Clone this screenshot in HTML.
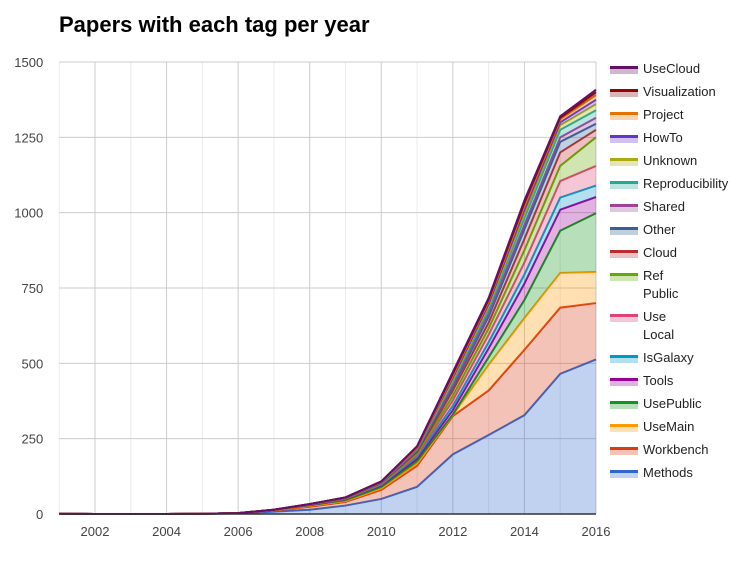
<!DOCTYPE html>
<html><head><meta charset="utf-8"><style>
body{margin:0;background:#fff;font-family:"Liberation Sans",Arial,sans-serif}
svg text{font-family:"Liberation Sans",Arial,sans-serif}
</style></head><body>
<svg id="c" width="753" height="559">
<text x="59" y="32" font-size="22" font-weight="bold" fill="#000">Papers with each tag per year</text>
<g id="grid"></g><g id="areas"></g><g id="axes"></g><g id="legend"></g>
</svg>
<script>
const years=[2001,2002,2003,2004,2005,2006,2007,2008,2009,2010,2011,2012,2013,2014,2015,2016];
const seriesNames=["Methods","Workbench","UseMain","UsePublic","Tools","IsGalaxy","Use Local","Ref Public","Cloud","Other","Shared","Reproducibility","Unknown","HowTo","Project","Visualization","UseCloud"];
const sMethods=[0,0,0,0,0,2,8,14,28,50,90,198,262,328,465,513];
const sWorkbench=[0,0,0,0,1,1,4,10,12,30,70,127,148,217,220,187];
const sUseMain=[0,0,0,0,0,0,1,3,3,5,8,3,85,105,115,103];
const sUsePublic=[1,0,0,0,0,0,1,2,3,5,8,2,25,60,140,195];
const sTools=[0,0,0,0,0,0,0,1,3,5,8,15,30,55,70,54];
const sIsGalaxy=[0,0,0,0,0,0,0,1,1,2,6,14,20,30,40,38];
const sUseLocal=[0,0,0,0,0,0,0,1,1,2,6,18,25,40,55,65];
const sRefPublic=[0,0,0,0,0,0,0,1,1,2,5,15,20,40,50,95];
const sCloud=[0,0,0,0,0,0,0,0,1,2,5,18,20,38,45,25];
const sOther=[0,0,0,0,0,0,0,0,1,1,4,12,20,32,35,20];
const sShared=[0,0,0,0,0,0,0,0,1,1,3,7,10,15,15,20];
const sRepro=[0,0,0,0,0,0,0,0,0,1,3,10,15,22,25,25];
const sUnknown=[0,0,0,0,0,0,0,0,0,1,2,7,10,15,15,20];
const sHowTo=[0,0,0,0,0,0,0,0,0,0,2,7,8,14,10,15];
const sProject=[0,0,0,0,0,0,0,0,0,1,2,7,8,12,10,15];
const sVisualization=[0,0,0,0,0,0,0,0,0,0,2,6,6,10,5,10];
const sUseCloud=[0,0,0,0,0,0,0,0,0,0,1,5,5,8,5,8];
const yTicks=[0,250,500,750,1000,1250,1500];
const xTicks=[2002,2004,2006,2008,2010,2012,2014,2016];
const allSeries=[sMethods,sWorkbench,sUseMain,sUsePublic,sTools,sIsGalaxy,sUseLocal,sRefPublic,sCloud,sOther,sShared,sRepro,sUnknown,sHowTo,sProject,sVisualization,sUseCloud];
const colors=["#3366cc","#dc3912","#ff9900","#109618","#990099","#0099c6","#dd4477","#66aa00","#b82e2e","#316395","#994499","#22aa99","#aaaa11","#6633cc","#e67300","#8b0707","#651067"];
const NS="http://www.w3.org/2000/svg";
const X0=59.2,X1=596,Y0=514,Y1=62;
const x=v=>X0+(v-2001)/(2016-2001)*(X1-X0);
const y=v=>Y0-v/1500*(Y0-Y1);
function mk(t,a,p){const e=document.createElementNS(NS,t);for(const k in a)e.setAttribute(k,a[k]);p.appendChild(e);return e;}
const grid=document.getElementById('grid');
for(let yr=2001;yr<=2016;yr++){const l=mk('line',{x1:x(yr),x2:x(yr),y1:Y1,y2:Y0,stroke:yr%2==0?'#ccc':'#ebebeb'},grid);

}
yTicks.forEach(t=>{const l=mk('line',{x1:X0,x2:X1,y1:y(t),y2:y(t),stroke:'#ccc'},grid);


const tx=mk('text',{x:X0-16,y:y(t)+5,'text-anchor':'end','font-size':13,fill:'#444'},grid);tx.textContent=t;

});
const axes=document.getElementById('axes');
const ax=mk('line',{x1:X0,x2:X1,y1:Y0,y2:Y0,stroke:'#333','stroke-width':1.5},axes);


xTicks.forEach(t=>{const tx=mk('text',{x:x(t),y:536,'text-anchor':'middle','font-size':13,fill:'#444'},axes);tx.textContent=t;

});
const areas=document.getElementById('areas');
let base=years.map(()=>0);
allSeries.forEach((s,i)=>{
 const top=base.map((b,j)=>b+s[j]);
 let d='M'+years.map((yr,j)=>x(yr)+','+y(top[j])).join(' L');
 d+=' L'+years.slice().reverse().map((yr,k)=>x(yr)+','+y(base[years.length-1-k])).join(' L')+'Z';
 const a=mk('path',{d:d,fill:colors[i],'fill-opacity':0.3,stroke:'none'},areas);
 
 
 const ln=mk('polyline',{points:years.map((yr,j)=>x(yr)+','+y(top[j])).join(' '),fill:'none',stroke:colors[i],'stroke-width':2},areas);
 
 
 base=top;
});
const lg=document.getElementById('legend');
const ly=[472,449,426,403,380,357,316,275,252,229,206,183,160,137,114,91,68];
seriesNames.forEach((n,i)=>{
 const g=mk('g',{},lg);
 
 
 mk('rect',{x:610,y:ly[i],width:28,height:6,fill:colors[i],'fill-opacity':0.3},g);
 mk('rect',{x:610,y:ly[i]-2,width:28,height:3,fill:colors[i]},g);
 const parts=n.split(' ');
 parts.forEach((p,k)=>{const t=mk('text',{x:643,y:ly[i]+5+k*18,'font-size':13,fill:'#222'},g);t.textContent=p;});
});
</script>
</body></html>
